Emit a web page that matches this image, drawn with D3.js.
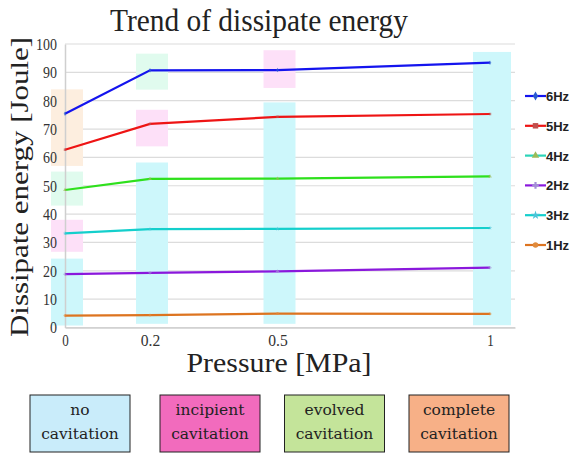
<!DOCTYPE html>
<html>
<head>
<meta charset="utf-8">
<script src="https://cdn.jsdelivr.net/npm/d3@7"></script>
<style>
  body { margin: 0; background: #fff; }
  svg { display: block; }
</style>
</head>
<body>
<div id="container"></div>
<script>
let w = 570;
let h = 453;

// data
let pressures = [0, 0.2, 0.5, 1];
let seriesNames = ["6Hz", "5Hz", "4Hz", "2Hz", "3Hz", "1Hz"];
let hz6 = [75.4, 90.7, 90.8, 93.4];
let hz5 = [62.7, 71.8, 74.3, 75.3];
let hz4 = [48.5, 52.4, 52.5, 53.3];
let hz2 = [18.8, 19.3, 19.8, 21.1];
let hz3 = [33.2, 34.7, 34.8, 35.1];
let hz1 = [4.2, 4.4, 4.9, 4.8];
let yTicks = [0, 10, 20, 30, 40, 50, 60, 70, 80, 90, 100];
let xTicks = [0, 0.2, 0.5, 1];

// cavitation regime bands: [pressure, low, high, regime]
let bands = [
  [0, 57, 84, "complete"],
  [0, 43, 55, "evolved"],
  [0, 26.7, 38, "incipient"],
  [0, 0.7, 24.3, "no"],
  [0.2, 83.9, 96.6, "evolved"],
  [0.2, 63.9, 76.8, "incipient"],
  [0.2, 1.3, 58.2, "no"],
  [0.5, 84.5, 97.8, "incipient"],
  [0.5, 1.3, 79.4, "no"],
  [1, 0.8, 97.2, "no"]
];
let regimes = ["no", "incipient", "evolved", "complete"];
let regimeLabels = [["no", "cavitation"], ["incipient", "cavitation"], ["evolved", "cavitation"], ["complete", "cavitation"]];

let seriesValues = [hz6, hz5, hz4, hz2, hz3, hz1];
let lineColors = ["#1414ee", "#ee1414", "#2ee01c", "#8a18dc", "#14cfcc", "#dd7420"];
let legendLineColors = ["#1414ee", "#ee1414", "#2cd4b8", "#8a18dc", "#14cfcc", "#dd7420"];
let legendMarkColors = ["#2a5bd0", "#c0504d", "#9bbb59", "#a38fd6", "#4bc4d8", "#e08a3c"];
let markers = [d3.symbolDiamond, d3.symbolSquare, d3.symbolTriangle, d3.symbolCross, d3.symbolStar, d3.symbolCircle];
let bandColors = {no: "#cdf7fb", incipient: "#fde0f8", evolved: "#e0fbee", complete: "#fdeedf"};
let boxColors = ["#c9ecfa", "#f26bbd", "#c4e49a", "#f7b087"];

let viz = d3.select("#container")
  .append("svg")
    .attr("width", w)
    .attr("height", h)
;

let xScale = d3.scaleLinear().domain([0, 1.0588]).range([65, 515]);
let yScale = d3.scaleLinear().domain([0, 100]).range([327.5, 44]);

// title
viz.append("text")
    .text("Trend of dissipate energy")
    .attr("x", 110)
    .attr("y", 31)
    .attr("textLength", 298)
    .attr("lengthAdjust", "spacingAndGlyphs")
    .attr("font-family", "Liberation Serif")
    .attr("font-size", 31)
    .attr("fill", "#222")
;

// gridlines
viz.append("g").selectAll("line").data(yTicks).enter()
  .append("line")
    .attr("x1", 65)
    .attr("x2", 515)
    .attr("y1", d => yScale(d))
    .attr("y2", d => yScale(d))
    .attr("stroke", "#dcdcdc")
    .attr("stroke-width", 1.2)
;

// regime bands
viz.append("g").selectAll("rect").data(bands).enter()
  .append("rect")
    .attr("x", d => xScale(d[0]) + 2 - (d[0] == 1 ? 19 : 16))
    .attr("width", d => d[0] == 1 ? 38 : 32)
    .attr("y", d => yScale(d[2]))
    .attr("height", d => yScale(d[1]) - yScale(d[2]))
    .attr("fill", d => bandColors[d[3]])
;

// axes
let yAxis = d3.axisLeft(yScale).tickValues(yTicks).tickSize(0).tickPadding(8);
let yAxisGroup = viz.append("g").attr("transform", "translate(65, 0)").call(yAxis);
yAxisGroup.select(".domain").attr("stroke", "#cfcfcf").attr("stroke-width", 1.5);
yAxisGroup.selectAll("text")
    .attr("font-family", "Liberation Serif")
    .attr("font-size", 17)
    .attr("textLength", d => String(d).length * 7)
    .attr("lengthAdjust", "spacingAndGlyphs")
    .attr("fill", "#333")
;

let xAxis = d3.axisBottom(xScale).tickValues(xTicks).tickSize(0).tickPadding(7).tickFormat(d3.format("~g"));
let xAxisGroup = viz.append("g").attr("transform", "translate(0, 327.5)").call(xAxis);
xAxisGroup.select(".domain").attr("stroke", "#cfcfcf").attr("stroke-width", 1.5);
xAxisGroup.selectAll("text")
    .attr("font-family", "Liberation Serif")
    .attr("font-size", 16)
    .attr("textLength", d => d3.format("~g")(d).length * 6.5)
    .attr("lengthAdjust", "spacingAndGlyphs")
    .attr("fill", "#333")
;

// axis labels
viz.append("text")
    .text("Dissipate energy [Joule]")
    .attr("transform", "translate(28, 187) rotate(-90)")
    .attr("text-anchor", "middle")
    .attr("textLength", 300)
    .attr("lengthAdjust", "spacingAndGlyphs")
    .attr("font-family", "Liberation Serif")
    .attr("font-size", 25)
    .attr("fill", "#222")
;
viz.append("text")
    .text("Pressure [MPa]")
    .attr("x", 279)
    .attr("y", 372)
    .attr("text-anchor", "middle")
    .attr("textLength", 185)
    .attr("lengthAdjust", "spacingAndGlyphs")
    .attr("font-family", "Liberation Serif")
    .attr("font-size", 27)
    .attr("fill", "#222")
;

// lines
let line = d3.line()
  .x((d, i) => xScale(pressures[i]))
  .y(d => yScale(d));

let lineGroup = viz.append("g");
seriesValues.forEach(function(vals, k) {
  lineGroup.append("path")
      .datum(vals)
      .attr("d", line)
      .attr("fill", "none")
      .attr("stroke", lineColors[k])
      .attr("stroke-width", 2.2)
  ;
  lineGroup.selectAll(".pt" + k).data(vals).enter()
    .append("path")
      .attr("class", "pt" + k)
      .attr("d", d3.symbol().type(markers[k]).size(6))
      .attr("transform", (d, i) => "translate(" + xScale(pressures[i]) + "," + yScale(d) + ")")
      .attr("fill", legendMarkColors[k])
      .attr("opacity", 0.7)
  ;
});

// legend
let legend = viz.append("g").selectAll("g").data(seriesNames).enter()
  .append("g")
    .attr("transform", (d, i) => "translate(525, " + (96 + i * 29.8) + ")")
;
legend.append("line")
    .attr("x1", 0)
    .attr("x2", 21)
    .attr("stroke", (d, i) => legendLineColors[i])
    .attr("stroke-width", 2.2)
;
legend.append("path")
    .attr("d", (d, i) => d3.symbol().type(markers[i]).size(i == 1 ? 30 : 24)())
    .attr("transform", "translate(10.5, 0)")
    .attr("fill", (d, i) => legendMarkColors[i])
;
legend.append("text")
    .text(d => d)
    .attr("x", 21)
    .attr("y", 5)
    .attr("font-family", "Liberation Sans")
    .attr("font-size", 13)
    .attr("font-weight", "bold")
    .attr("fill", "#222")
;

// regime boxes
let boxes = viz.append("g").selectAll("g").data(regimes).enter()
  .append("g")
    .attr("transform", (d, i) => "translate(" + [30, 160, 284.5, 409][i] + ", 395)")
;
boxes.append("rect")
    .attr("width", 100)
    .attr("height", 57)
    .attr("fill", (d, i) => boxColors[i])
    .attr("stroke", "#222")
    .attr("stroke-width", 1)
;
boxes.each(function(d, i) {
  let g = d3.select(this);
  regimeLabels[i].forEach(function(t, j) {
    g.append("text")
        .text(t)
        .attr("x", 50)
        .attr("y", 20 + j * 24)
        .attr("text-anchor", "middle")
        .attr("font-family", "DejaVu Serif")
        .attr("font-size", 15.5)
        .attr("fill", "#222")
    ;
  });
});
</script>
</body>
</html>
